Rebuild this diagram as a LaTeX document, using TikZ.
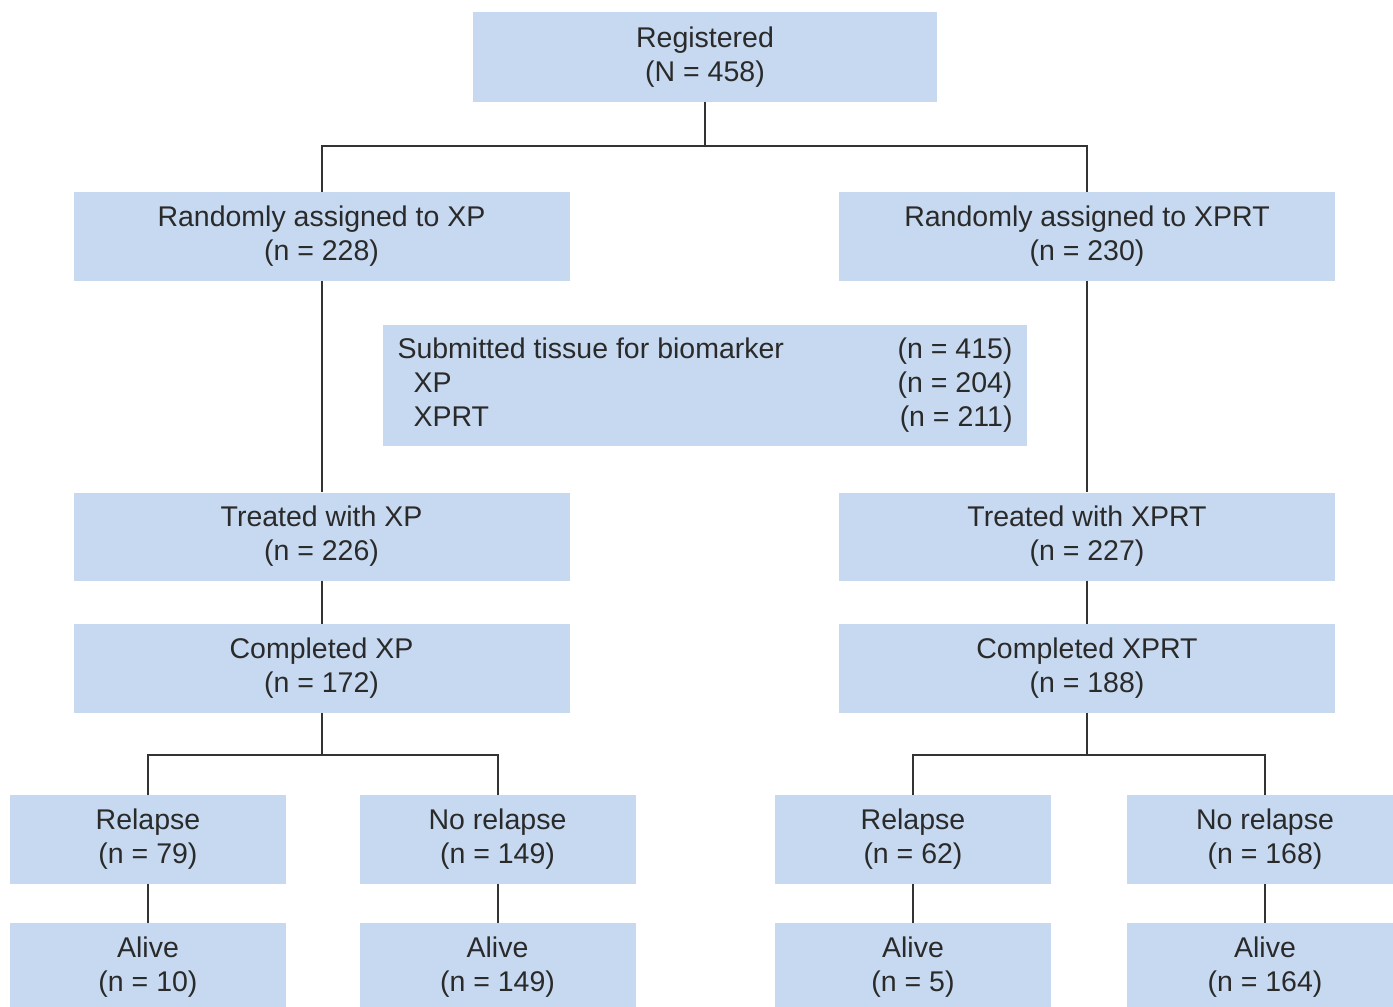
\documentclass[tikz,border=0pt]{standalone}
\usepackage{fontspec}
\setmainfont{Liberation Sans}
\definecolor{boxblue}{HTML}{C6D9F0}
\definecolor{txtgray}{HTML}{2A2A2A}
\definecolor{linegray}{HTML}{333333}
\begin{document}
\begin{tikzpicture}[x=1pt,y=-1pt,
  box/.style={fill=boxblue, draw=none, inner sep=0pt, align=center, text=txtgray,
    font=\fontsize{28.5}{34}\selectfont},
  wide/.style={box, minimum width=496pt, minimum height=89pt},
  small/.style={box, minimum width=276pt, minimum height=89pt},
  conn/.style={draw=linegray, line width=2pt}]
\useasboundingbox (0,0) rectangle (1393,1007);
\fill[white] (0,0) rectangle (1393,1007);

\node[box, minimum width=464pt, minimum height=90pt] (reg) at (705,57) {Registered\\(N = 458)};
\node[wide] (rxp) at (321.5,236.5) {Randomly assigned to XP\\(n = 228)};
\node[wide] (rxprt) at (1087,236.5) {Randomly assigned to XPRT\\(n = 230)};
\node[box, minimum width=644pt, minimum height=121pt] (sub) at (705,385.5)
  {\begin{tabular*}{615pt}{@{}l@{\extracolsep{\fill}}r@{}}
   Submitted tissue for biomarker & (n = 415)\\
   \hspace*{16pt}XP & (n = 204)\\
   \hspace*{16pt}XPRT & (n = 211)
   \end{tabular*}};
\node[wide, minimum height=88pt] (txp) at (321.5,536.5) {Treated with XP\\(n = 226)};
\node[wide, minimum height=88pt] (txprt) at (1087,536.5) {Treated with XPRT\\(n = 227)};
\node[wide] (cxp) at (321.5,668.5) {Completed XP\\(n = 172)};
\node[wide] (cxprt) at (1087,668.5) {Completed XPRT\\(n = 188)};

\node[small] (r1) at (148,839.5) {Relapse\\(n = 79)};
\node[small] (n1) at (497.5,839.5) {No relapse\\(n = 149)};
\node[small] (r2) at (913,839.5) {Relapse\\(n = 62)};
\node[small] (n2) at (1265,839.5) {No relapse\\(n = 168)};

\node[small] (a1) at (148,967.5) {Alive\\(n = 10)};
\node[small] (a2) at (497.5,967.5) {Alive\\(n = 149)};
\node[small] (a3) at (913,967.5) {Alive\\(n = 5)};
\node[small] (a4) at (1265,967.5) {Alive\\(n = 164)};

\coordinate (s0) at (705,146);
\coordinate (s1) at (321.5,755);
\coordinate (s2) at (1087,755);

\draw[conn] (reg.south) -- (s0) -| (rxp.north);
\draw[conn] (s0) -| (rxprt.north);
\draw[conn] (rxp.south) -- (txp.north);
\draw[conn] (rxprt.south) -- (txprt.north);
\draw[conn] (txp.south) -- (cxp.north);
\draw[conn] (txprt.south) -- (cxprt.north);
\draw[conn] (cxp.south) -- (s1) -| (r1.north);
\draw[conn] (s1) -| (n1.north);
\draw[conn] (cxprt.south) -- (s2) -| (r2.north);
\draw[conn] (s2) -| (n2.north);
\draw[conn] (r1.south) -- (a1.north);
\draw[conn] (n1.south) -- (a2.north);
\draw[conn] (r2.south) -- (a3.north);
\draw[conn] (n2.south) -- (a4.north);
\end{tikzpicture}
\end{document}
